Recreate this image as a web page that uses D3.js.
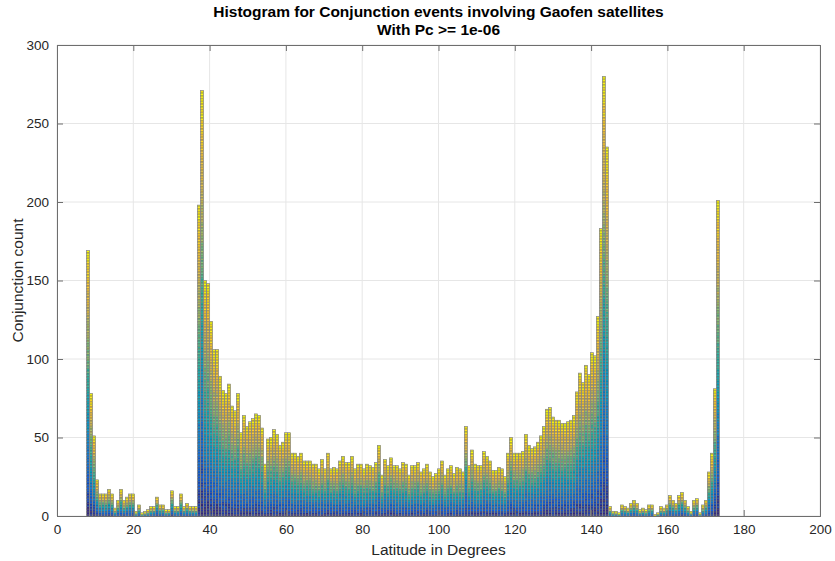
<!DOCTYPE html>
<html>
<head>
<meta charset="utf-8">
<script src="https://cdn.jsdelivr.net/npm/d3@7"></script>
<style>
  html, body { margin: 0; padding: 0; background: #fff; }
  svg { display: block; }
  text { font-family: "Liberation Sans", Arial, Helvetica, sans-serif; }
</style>
</head>
<body>
<svg id="chart" width="835" height="561"></svg>
<script>
// ---------------- data ----------------
const titleLines = ["Histogram for Conjunction events involving Gaofen satellites", "With Pc >= 1e-06"];
const xLabel = "Latitude in Degrees";
const yLabel = "Conjunction count";
const xTicks = [0, 20, 40, 60, 80, 100, 120, 140, 160, 180, 200];
const yTicks = [0, 50, 100, 150, 200, 250, 300];
const latStart = 7.78;     // left edge of first bin (degrees)
const binWidth = 0.786;    // bin width (degrees)
// counts per bin
const countsLow = [169,78,51,23,14,14,14,17,14,5,10,17,10,12,14,14,3,7,2,3,4,6,6,12,7,7,4,4,16,6,6,14,6,8,6,6,6];
const countsMid = [198,271,150,148,124,106,106,89,80,78,84,70,67,78,
  53,64,57,60,62,65,64,56,33,49,50,55,52,45,47,53,53,40,40,38,40,35,35,35,33,33,30,36,30,40,30,31,30,35,38,34,34,38,30,33,33,30,33,32,31,34,45,26,36,32,37,32,32,30,34,33,26,32,32,34,28,30,33,
  28,25,27,30,35,26,30,32,27,31,30,28,57,32,42,33,32,32,41,38,35,29,29,31,30,25,40,50,40,40,40,41,52,45,43,44,47,51,57,68,69,63,61,61,59,59,60,61,64,79,91,85,96,90,104,
  102,127,183,280,235];
const countsHigh = [6,3,3,2,7,6,5,8,10,8,4,5,4,7,7,1,2,6,5,7,13,10,8,13,15,10,6,3,10,11,2,7,10,28,40,81,201];
const counts = countsLow.concat(countsMid, countsHigh);
const parulaStops = ["#352a87","#0f5cdd","#1481d6","#06a4ca","#2eb7a4","#87bf77","#d1bb59","#fec832","#f9fb0e"];

// ---------------- layout ----------------
const W = 835, H = 561;
const plot = {left: 57, right: 820, top: 45, bottom: 516};
const svg = d3.select("#chart");
svg.append("rect").attr("width", W).attr("height", H).attr("fill", "#fff");

const x = d3.scaleLinear().domain([0, 200]).range([plot.left, plot.right]);
const y = d3.scaleLinear().domain([0, 300]).range([plot.bottom, plot.top]);
const color = d3.scaleLinear()
  .domain(parulaStops.map((_, i) => i / (parulaStops.length - 1)))
  .range(parulaStops)
  .interpolate(d3.interpolateRgb);

// grid
const grid = svg.append("g");
grid.selectAll("line.gx").data(xTicks).join("line")
  .attr("x1", d => x(d)).attr("x2", d => x(d))
  .attr("y1", plot.top).attr("y2", plot.bottom)
  .attr("stroke", "#e6e6e6").attr("stroke-width", 1);
grid.selectAll("line.gy").data(yTicks).join("line")
  .attr("x1", plot.left).attr("x2", plot.right)
  .attr("y1", d => y(d)).attr("y2", d => y(d))
  .attr("stroke", "#e6e6e6").attr("stroke-width", 1);

// bins
const bins = counts.map((c, k) => ({k, c, x0: latStart + k * binWidth, x1: latStart + (k + 1) * binWidth}));
function hash(a, b) {
  const s = Math.sin(a * 12.9898 + b * 78.233) * 43758.5453;
  return s - Math.floor(s);
}
const cells = [];
bins.forEach(b => {
  for (let i = 0; i < b.c; i++) {
    let t = (i + 1) / b.c + 0.10 * (hash(b.k, i) - 0.5);
    t = Math.max(0, Math.min(1, t));
    cells.push({b, i, t});
  }
});
const barsG = svg.append("g");
barsG.selectAll("rect.cell").data(cells).join("rect")
  .attr("class", "cell")
  .attr("x", d => x(d.b.x0))
  .attr("width", d => x(d.b.x1) - x(d.b.x0))
  .attr("y", d => y(d.i + 1))
  .attr("height", d => y(d.i) - y(d.i + 1))
  .attr("fill", d => color(d.t))
  .attr("stroke", "rgba(30,30,30,0.45)")
  .attr("stroke-width", 0.45);
barsG.selectAll("rect.bar").data(bins.filter(b => b.c > 0)).join("rect")
  .attr("class", "bar")
  .attr("x", d => x(d.x0))
  .attr("width", d => x(d.x1) - x(d.x0))
  .attr("y", d => y(d.c))
  .attr("height", d => y(0) - y(d.c))
  .attr("fill", "none")
  .attr("stroke", "#8c8c8c")
  .attr("stroke-width", 0.6);

// axes (box)
const axisColor = "#6e6e6e";
const xAxis = d3.axisBottom(x).tickValues(xTicks).tickSize(-6).tickPadding(8).tickFormat(d3.format("d"));
const yAxis = d3.axisLeft(y).tickValues(yTicks).tickSize(-6).tickPadding(8).tickFormat(d3.format("d"));
const gx = svg.append("g").attr("transform", `translate(0,${plot.bottom})`).call(xAxis);
const gy = svg.append("g").attr("transform", `translate(${plot.left},0)`).call(yAxis);
const gxTop = svg.append("g").attr("transform", `translate(0,${plot.top})`).call(d3.axisTop(x).tickValues(xTicks).tickSize(-6).tickFormat(""));
const gyRight = svg.append("g").attr("transform", `translate(${plot.right},0)`).call(d3.axisRight(y).tickValues(yTicks).tickSize(-6).tickFormat(""));
[gx, gy, gxTop, gyRight].forEach(g => {
  g.select(".domain").attr("stroke", axisColor).attr("stroke-width", 1);
  g.selectAll(".tick line").attr("stroke", axisColor).attr("stroke-width", 1);
  g.selectAll(".tick text").attr("fill", "#262626").style("font-size", "13.5px")
    .style("font-family", "'Liberation Sans', Arial, sans-serif");
});

// labels
svg.append("text").attr("x", (plot.left + plot.right) / 2).attr("y", 555)
  .attr("text-anchor", "middle").attr("fill", "#262626").style("font-size", "15.5px").text(xLabel);
svg.append("text").attr("transform", `translate(23,${(plot.top + plot.bottom) / 2}) rotate(-90)`)
  .attr("text-anchor", "middle").attr("fill", "#262626").style("font-size", "15.5px").text(yLabel);
svg.selectAll("text.title").data(titleLines).join("text")
  .attr("class", "title")
  .attr("x", (plot.left + plot.right) / 2)
  .attr("y", (d, i) => 17 + i * 18)
  .attr("text-anchor", "middle").attr("fill", "#000")
  .style("font-size", "15.5px").style("font-weight", "bold").text(d => d);
</script>
</body>
</html>
